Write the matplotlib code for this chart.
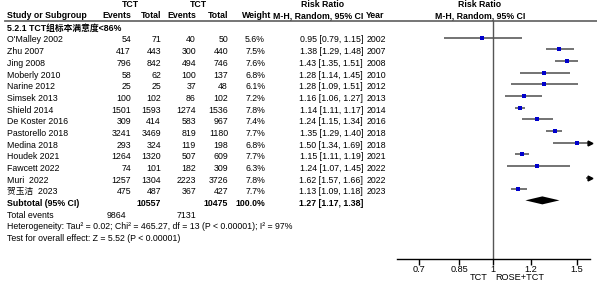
import numpy as np
import matplotlib
matplotlib.use("Agg")
import matplotlib.pyplot as plt

plt.rcParams['font.family'] = ['Liberation Sans', 'Noto Sans CJK SC', 'DejaVu Sans']

# DATA
studies = ["O'Malley 2002", "Zhu 2007", "Jing 2008", "Moberly 2010", "Narine 2012",
           "Simsek 2013", "Shield 2014", "De Koster 2016", "Pastorello 2018",
           "Medina 2018", "Houdek 2021", "Fawcett 2022", "Muri  2022", "贺玉洁  2023"]
ev1 = [54, 417, 796, 58, 25, 100, 1501, 309, 3241, 293, 1264, 74, 1257, 475]
tot1 = [71, 443, 842, 62, 25, 102, 1593, 414, 3469, 324, 1320, 101, 1304, 487]
ev2 = [40, 300, 494, 100, 37, 86, 1274, 583, 819, 119, 507, 182, 2223, 367]
tot2 = [50, 440, 746, 137, 48, 102, 1536, 967, 1180, 198, 609, 309, 3726, 427]
weights = [5.6, 7.5, 7.6, 6.8, 6.1, 7.2, 7.8, 7.4, 7.7, 6.8, 7.7, 6.3, 7.8, 7.7]
rr = [0.95, 1.38, 1.43, 1.28, 1.28, 1.16, 1.14, 1.24, 1.35, 1.50, 1.15, 1.24, 1.62, 1.13]
lo = [0.79, 1.29, 1.35, 1.14, 1.09, 1.06, 1.11, 1.15, 1.29, 1.34, 1.11, 1.07, 1.57, 1.09]
hi = [1.15, 1.48, 1.51, 1.45, 1.51, 1.27, 1.17, 1.34, 1.40, 1.69, 1.19, 1.45, 1.66, 1.18]
years = [2002, 2007, 2008, 2010, 2012, 2013, 2014, 2016, 2018, 2018, 2021, 2022, 2022, 2023]

sub_tot1, sub_tot2 = 10557, 10475
sub_rr, sub_lo, sub_hi = 1.27, 1.17, 1.38
total_ev1, total_ev2 = 9864, 7131

group_label = "5.2.1 TCT组标本满意度<86%"
het_text = "Heterogeneity: Tau² = 0.02; Chi² = 465.27, df = 13 (P < 0.00001); I² = 97%"
test_text = "Test for overall effect: Z = 5.52 (P < 0.00001)"
ticks = [0.7, 0.85, 1, 1.2, 1.5]
tick_labels = ["0.7", "0.85", "1", "1.2", "1.5"]
fav_left, fav_right = "TCT", "ROSE+TCT"

W, H = 597, 282
XMIN, XMAX = 0.628, 1.6

fig = plt.figure(figsize=(W / 100, H / 100), dpi=100)
bg = fig.add_axes([0, 0, 1, 1])
bg.set_xlim(0, W)
bg.set_ylim(H, 0)
bg.axis('off')

fs = 6.3

# forest panel: x pixels 397..590, y pixels 0..259
fx = fig.add_axes([397 / W, (H - 259) / H, (590 - 397) / W, 259 / H])
fx.set_xscale('log')
fx.set_xlim(XMIN, XMAX)
fx.set_ylim(259, 0)
fx.patch.set_alpha(0)
for s in ['top', 'left', 'right']:
    fx.spines[s].set_visible(False)
fx.spines['bottom'].set_linewidth(1.0)
fx.set_yticks([])
fx.set_xticks(ticks)
fx.set_xticklabels(tick_labels)
fx.xaxis.set_minor_locator(matplotlib.ticker.NullLocator())
fx.tick_params(axis='x', direction='out', length=4, width=1.0, labelsize=fs + 0.3, pad=0.3)

step = 11.67
y0 = 40
row_y = [y0 + i * step for i in range(len(studies))]
y_group = y0 - step
y_sub = row_y[-1] + step
y_tot = y_sub + step
y_het = y_tot + step
y_test = y_het + step

# column anchors (pixels)
c_name, c_ev1, c_tot1, c_ev2, c_tot2, c_w, c_ci, c_year = 7, 131, 161, 196, 228, 265, 363, 367

# headers
hb = dict(fontsize=fs, fontweight='bold', va='center')
bg.text(130, 4.5, "TCT", ha='center', **hb)
bg.text(198, 4.5, "TCT", ha='center', **hb)
bg.text(323, 4.5, "Risk Ratio", ha='center', **hb)
bg.text(480, 4.5, "Risk Ratio", ha='center', **hb)
bg.text(c_name, 15.5, "Study or Subgroup", ha='left', **hb)
bg.text(c_ev1, 15.5, "Events", ha='right', **hb)
bg.text(c_tot1, 15.5, "Total", ha='right', **hb)
bg.text(c_ev2, 15.5, "Events", ha='right', **hb)
bg.text(c_tot2, 15.5, "Total", ha='right', **hb)
bg.text(c_w + 6, 15.5, "Weight", ha='right', **hb)
bg.text(c_ci, 15.5, "M-H, Random, 95% CI", ha='right', **hb)
bg.text(c_year - 1, 15.5, "Year", ha='left', **hb)
bg.text(480, 15.5, "M-H, Random, 95% CI", ha='center', **hb)
bg.plot([5, W], [20.5, 20.5], color='#6a6a6a', lw=1.3)

bg.text(c_name, y_group, group_label, ha='left', **hb)

# study rows
for i, y in enumerate(row_y):
    kw = dict(fontsize=fs, va='center')
    bg.text(c_name, y, studies[i], ha='left', **kw)
    bg.text(c_ev1, y, f"{ev1[i]}", ha='right', **kw)
    bg.text(c_tot1, y, f"{tot1[i]}", ha='right', **kw)
    bg.text(c_ev2, y, f"{ev2[i]}", ha='right', **kw)
    bg.text(c_tot2, y, f"{tot2[i]}", ha='right', **kw)
    bg.text(c_w, y, f"{weights[i]:.1f}%", ha='right', **kw)
    bg.text(c_ci, y, f"{rr[i]:.2f} [{lo[i]:.2f}, {hi[i]:.2f}]", ha='right', **kw)
    bg.text(c_year, y, f"{years[i]}", ha='left', **kw)

    ym = y - 2.5
    x1 = max(lo[i], XMIN)
    x2 = min(hi[i], XMAX)
    if x1 < x2:
        fx.plot([x1, x2], [ym, ym], color='#4d4d4d', lw=1.1, solid_capstyle='butt')
    if hi[i] > XMAX:
        fx.plot([XMAX], [ym], marker='>', color='black', markersize=3.5, clip_on=False)
    if XMIN <= rr[i] <= XMAX:
        fx.plot([rr[i]], [ym], marker='s', color='#0000cc', markersize=2.2,
                markeredgewidth=0)

# subtotal
sb = dict(fontsize=fs, fontweight='bold', va='center')
bg.text(c_name, y_sub, "Subtotal (95% CI)", ha='left', **sb)
bg.text(c_tot1, y_sub, f"{sub_tot1}", ha='right', **sb)
bg.text(c_tot2, y_sub, f"{sub_tot2}", ha='right', **sb)
bg.text(c_w, y_sub, "100.0%", ha='right', **sb)
bg.text(c_ci, y_sub, f"{sub_rr:.2f} [{sub_lo:.2f}, {sub_hi:.2f}]", ha='right', **sb)
yd = y_sub - 3
fx.fill([sub_lo, sub_rr, sub_hi, sub_rr], [yd, yd - 4, yd, yd + 4], color='black', lw=0)

bg.text(c_name, y_tot, "Total events", ha='left', fontsize=fs, va='center')
bg.text(c_ev1 - 5, y_tot, f"{total_ev1}", ha='right', fontsize=fs, va='center')
bg.text(c_ev2, y_tot, f"{total_ev2}", ha='right', fontsize=fs, va='center')
bg.text(c_name, y_het, het_text, ha='left', fontsize=fs, va='center')
bg.text(c_name, y_test, test_text, ha='left', fontsize=fs, va='center')

# line of no effect
fx.plot([1, 1], [20.5, 259], color='#555555', lw=1.0)

# favours labels
bg.text(488, 277.3, fav_left, ha='right', va='center', fontsize=fs + 0.3)
bg.text(495, 277.3, fav_right, ha='left', va='center', fontsize=fs + 0.3)

fig.savefig("out.png", dpi=100)
